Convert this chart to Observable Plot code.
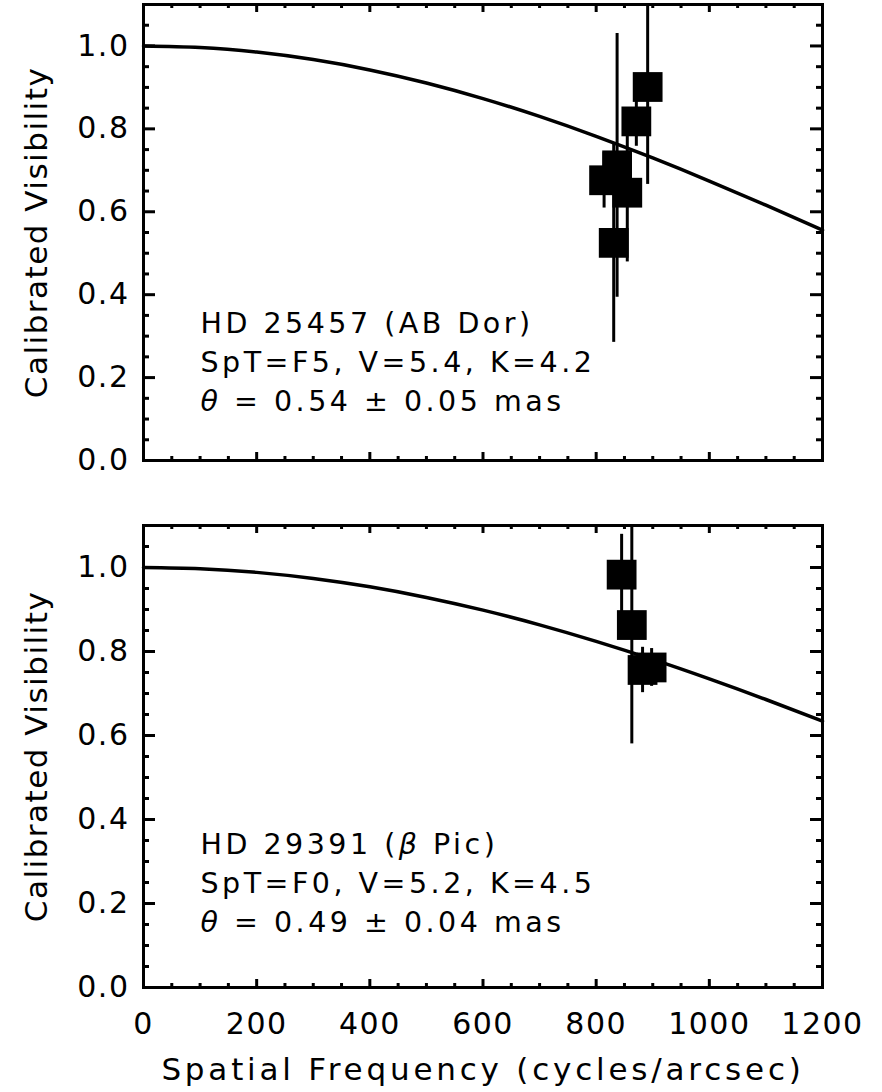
<!DOCTYPE html>
<html><head><meta charset="utf-8">
<script src="https://cdn.jsdelivr.net/npm/d3@7"></script>
<script src="https://cdn.jsdelivr.net/npm/@observablehq/plot@0.6"></script>
<style>
html,body{margin:0;padding:0;background:#fff;}
#chart{position:relative;width:882px;height:1092px;background:#fff;overflow:hidden;}
#chart svg{display:block;}
</style></head><body><div id="chart"></div>
<script>
// ---- data ----
const xMajor = [0, 200, 400, 600, 800, 1000, 1200];
const xMinor = [50, 100, 150, 250, 300, 350, 450, 500, 550, 650, 700, 750, 850, 900, 950, 1050, 1100, 1150];
const yMajor = [0, 0.2, 0.4, 0.6, 0.8, 1.0];
const yMinor = [0.05, 0.1, 0.15, 0.25, 0.3, 0.35, 0.45, 0.5, 0.55, 0.65, 0.7, 0.75, 0.85, 0.9, 0.95, 1.05];

// model curves (uniform-disk fit), sampled along spatial frequency
const curveFreq = [0, 100, 200, 300, 400, 500, 600, 700, 800, 900, 1000, 1100, 1200];
const topModel = [1.0, 0.9963, 0.9853, 0.9672, 0.9422, 0.9107, 0.8731, 0.8300, 0.7820, 0.7298, 0.6742, 0.6158, 0.5555];
const bottomModel = [1.0, 0.9971, 0.9884, 0.9739, 0.9540, 0.9287, 0.8984, 0.8635, 0.8242, 0.7812, 0.7348, 0.6857, 0.6342];

// HD 25457 (AB Dor)
const topFreq = [891, 871, 837, 814, 855, 831];
const topVis  = [0.901, 0.818, 0.712, 0.676, 0.646, 0.525];
const topErr  = [0.235, 0.060, 0.318, 0.067, 0.167, 0.240];

// HD 29391 (beta Pic)
const botFreq = [845, 863, 882, 898];
const botVis  = [0.983, 0.863, 0.756, 0.762];
const botErr  = [0.096, 0.283, 0.054, 0.045];

const topAnnot = "HD 25457 (AB Dor)\nSpT=F5, V=5.4, K=4.2\nθ = 0.54 ± 0.05 mas";
const botAnnot = "HD 29391 (β Pic)\nSpT=F0, V=5.2, K=4.5\nθ = 0.49 ± 0.04 mas";
const yTitle = "Calibrated Visibility";
const xTitle = "Spatial Frequency (cycles/arcsec)";

// ---- drawing ----
const W = 882, ML = 143, MR = 60;
const FONT = "'DejaVu Sans', sans-serif";

function italicGreek(node) {
  // wrap Greek letters in an italic tspan
  const walker = [];
  node.querySelectorAll("tspan").forEach(ts => walker.push(ts));
  const targets = walker.length ? walker : [node];
  targets.forEach(ts => {
    const s = ts.textContent;
    if (!/[θβ]/.test(s)) return;
    while (ts.firstChild) ts.removeChild(ts.firstChild);
    s.split(/([θβ])/).forEach(part => {
      if (!part) return;
      if (part === "θ" || part === "β") {
        const it = document.createElementNS("http://www.w3.org/2000/svg", "tspan");
        it.setAttribute("font-style", "italic");
        it.textContent = part;
        ts.appendChild(it);
      } else {
        ts.appendChild(document.createTextNode(part));
      }
    });
  });
}

function panel(o) {
  const fw = W - ML - MR;
  const fh = o.height - o.marginTop - o.marginBottom;
  const pts = o.freq.map((u, i) => ({u, v: o.vis[i], e: o.err[i]}));
  const curve = curveFreq.map((u, i) => ({u, v: o.model[i]}));
  const marks = [
    Plot.line(curve, {x: "u", y: "v", curve: "natural", stroke: "black", strokeWidth: 3.5}),
    Plot.ruleX(pts, {x: "u", y1: d => d.v - d.e, y2: d => d.v + d.e, stroke: "black", strokeWidth: 3, clip: true}),
    Plot.dot(pts, {x: "u", y: "v", symbol: "square", r: 16.8, fill: "black", stroke: null}),
    Plot.tickY(yMajor, {y: d => d, insetRight: fw - 12, strokeWidth: 3}),
    Plot.tickY(yMinor, {y: d => d, insetRight: fw - 6, strokeWidth: 3}),
    Plot.tickY(yMajor, {y: d => d, insetLeft: fw - 12, strokeWidth: 3}),
    Plot.tickY(yMinor, {y: d => d, insetLeft: fw - 6, strokeWidth: 3}),
    Plot.tickX(xMajor, {x: d => d, insetTop: fh - 8, strokeWidth: 3}),
    Plot.tickX(xMinor, {x: d => d, insetTop: fh - 4, strokeWidth: 3}),
    Plot.tickX(xMajor, {x: d => d, insetBottom: fh - 8, strokeWidth: 3}),
    Plot.tickX(xMinor, {x: d => d, insetBottom: fh - 4, strokeWidth: 3}),
    Plot.frame({stroke: "black", strokeWidth: 3}),
    Plot.axisY(yMajor, {anchor: "left", tickSize: 0, tickPadding: 14, tickFormat: d => d.toFixed(1), label: null, fontSize: 30}),
    Plot.text([yTitle], {text: d => d, frameAnchor: "left", dx: -106, rotate: -90, textAnchor: "middle", lineAnchor: "middle", fontSize: 31}),
    Plot.text([o.annot], {text: d => d, frameAnchor: "bottom-left", dx: 57, dy: o.annotDy, textAnchor: "start", lineAnchor: "bottom", lineHeight: 1.36, fontSize: 28.5})
  ];
  if (o.xLabels) {
    marks.push(Plot.axisX(xMajor, {anchor: "bottom", tickSize: 0, tickPadding: 25, tickFormat: d => String(d), label: null, fontSize: 30}));
    marks.push(Plot.text([xTitle], {text: d => d, frameAnchor: "bottom", dy: 92, textAnchor: "middle", lineAnchor: "bottom", fontSize: 31}));
  }
  const svg = Plot.plot({
    width: W, height: o.height,
    marginLeft: ML, marginRight: MR, marginTop: o.marginTop, marginBottom: o.marginBottom,
    x: {domain: [0, 1200], axis: null},
    y: {domain: [0, 1.1], axis: null},
    style: {fontFamily: FONT, fontSize: "30px", color: "black", background: "white", overflow: "visible"},
    marks
  });
  svg.querySelectorAll("text").forEach(t => {
    const s = t.textContent;
    if (s.startsWith("HD")) { t.style.letterSpacing = "3.5px"; italicGreek(t); }
    else if (s.startsWith("Spatial")) t.style.letterSpacing = "3.8px";
    else t.style.letterSpacing = "1.5px";
  });
  return svg;
}

const root = document.getElementById("chart");
root.appendChild(panel({height: 470, marginTop: 4, marginBottom: 10, freq: topFreq, vis: topVis, err: topErr, model: topModel, annot: topAnnot, annotDy: -50, xLabels: false}));
root.appendChild(panel({height: 622, marginTop: 55, marginBottom: 105, freq: botFreq, vis: botVis, err: botErr, model: bottomModel, annot: botAnnot, annotDy: -56, xLabels: true}));
</script></body></html>
